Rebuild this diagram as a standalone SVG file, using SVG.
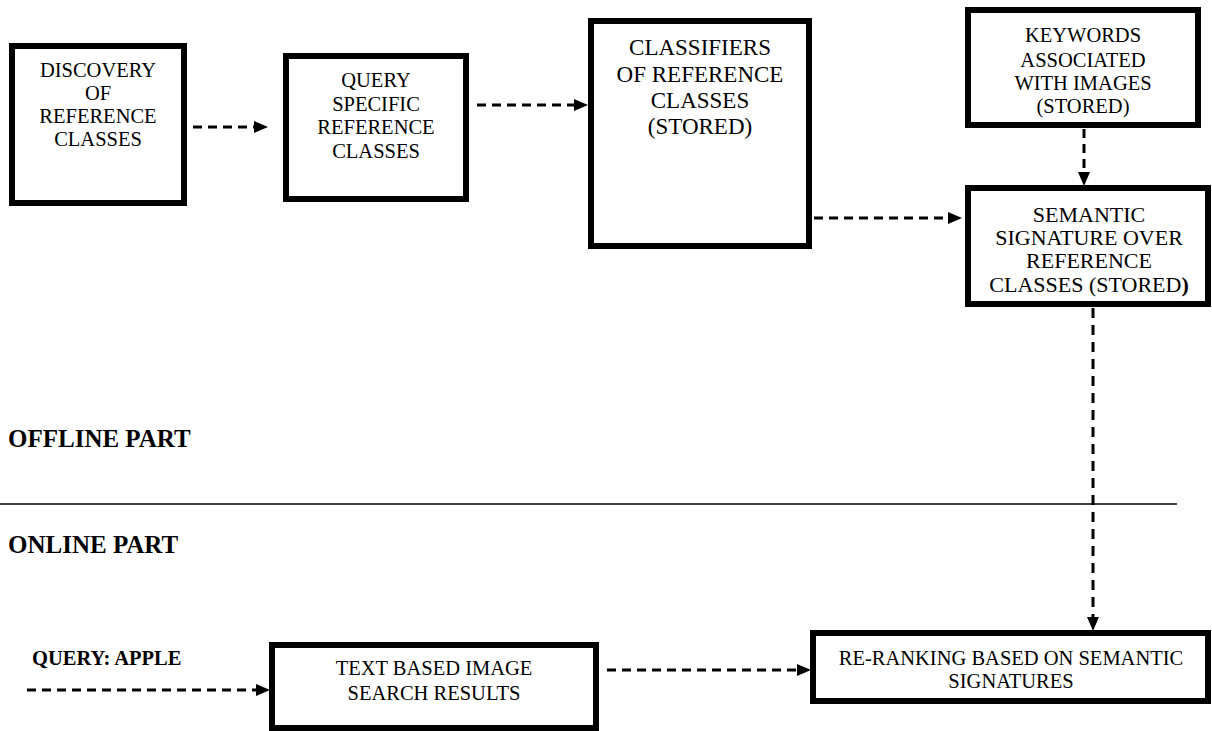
<svg xmlns="http://www.w3.org/2000/svg" width="1212" height="731" viewBox="0 0 1212 731">
<style>
.box{fill:#fff;stroke:#000;stroke-width:6}
.t{font-family:"Liberation Serif","Times New Roman",serif;font-size:20.5px;fill:#000;text-anchor:middle}
.t23{font-size:23px}
.t22{font-size:22px}
.lbl{font-family:"Liberation Serif","Times New Roman",serif;font-weight:bold;fill:#000}
.conn{fill:none;stroke:#000;stroke-width:3;stroke-dasharray:9 6}
</style>
<defs>
<marker id="ah" markerUnits="userSpaceOnUse" markerWidth="14" markerHeight="12" refX="0" refY="6" orient="auto">
<path d="M0,0 L14,6 L0,12 Z" fill="#000"/>
</marker>
</defs>
<rect width="1212" height="731" fill="#fff"/>

<g id="connectors">
<line class="conn" x1="193" y1="127" x2="254" y2="127" marker-end="url(#ah)"/>
<line class="conn" x1="477" y1="105" x2="574" y2="105" marker-end="url(#ah)"/>
<line class="conn" x1="814" y1="218" x2="948" y2="218" marker-end="url(#ah)"/>
<line class="conn" x1="1084" y1="129" x2="1084" y2="172" marker-end="url(#ah)"/>
<line class="conn" x1="1093" y1="308" x2="1093" y2="617" marker-end="url(#ah)" style="stroke-dasharray:10 7"/>
<line class="conn" x1="27" y1="690" x2="256" y2="690" marker-end="url(#ah)"/>
<line class="conn" x1="607" y1="670" x2="797" y2="670" marker-end="url(#ah)"/>
</g>

<line id="divider" x1="0" y1="504" x2="1177" y2="504" stroke="#000" stroke-width="1.5"/>
<text class="lbl" x="8" y="447" font-size="25">OFFLINE PART</text>
<text class="lbl" x="8" y="553" font-size="25">ONLINE PART</text>
<text class="lbl" x="32" y="665" font-size="20.5">QUERY: APPLE</text>

<g id="discovery">
<rect class="box" x="12" y="46" width="172" height="157"/>
<text class="t" x="98" y="77">DISCOVERY</text>
<text class="t" x="98" y="100">OF</text>
<text class="t" x="98" y="123">REFERENCE</text>
<text class="t" x="98" y="146">CLASSES</text>
</g>

<g id="query-specific">
<rect class="box" x="286" y="56" width="180" height="143"/>
<text class="t" x="376" y="87">QUERY</text>
<text class="t" x="376" y="111">SPECIFIC</text>
<text class="t" x="376" y="134">REFERENCE</text>
<text class="t" x="376" y="158">CLASSES</text>
</g>

<g id="classifiers">
<rect class="box" x="591" y="21" width="218" height="225"/>
<text class="t t23" x="700" y="55">CLASSIFIERS</text>
<text class="t t23" x="700" y="82">OF REFERENCE</text>
<text class="t t23" x="700" y="108">CLASSES</text>
<text class="t t23" x="700" y="134">(STORED)</text>
</g>

<g id="keywords">
<rect class="box" x="968" y="10" width="230" height="115"/>
<text class="t" x="1083" y="42">KEYWORDS</text>
<text class="t" x="1083" y="67">ASSOCIATED</text>
<text class="t" x="1083" y="90">WITH IMAGES</text>
<text class="t" x="1083" y="113">(STORED)</text>
</g>

<g id="semantic-signature">
<rect class="box" x="968" y="188" width="240" height="116"/>
<text class="t t22" x="1089" y="222">SEMANTIC</text>
<text class="t t22" x="1089" y="245">SIGNATURE OVER</text>
<text class="t t22" x="1089" y="268">REFERENCE</text>
<text class="t t22" x="1089" y="292">CLASSES (STORED<tspan font-weight="bold">)</tspan></text>
</g>

<g id="text-search">
<rect class="box" x="272" y="645" width="324" height="83"/>
<text class="t" x="434" y="675">TEXT BASED IMAGE</text>
<text class="t" x="434" y="700">SEARCH RESULTS</text>
</g>

<g id="re-ranking">
<rect class="box" x="813" y="633" width="395" height="68"/>
<text class="t" x="1011" y="665">RE-RANKING BASED ON SEMANTIC</text>
<text class="t" x="1011" y="688">SIGNATURES</text>
</g>
</svg>
